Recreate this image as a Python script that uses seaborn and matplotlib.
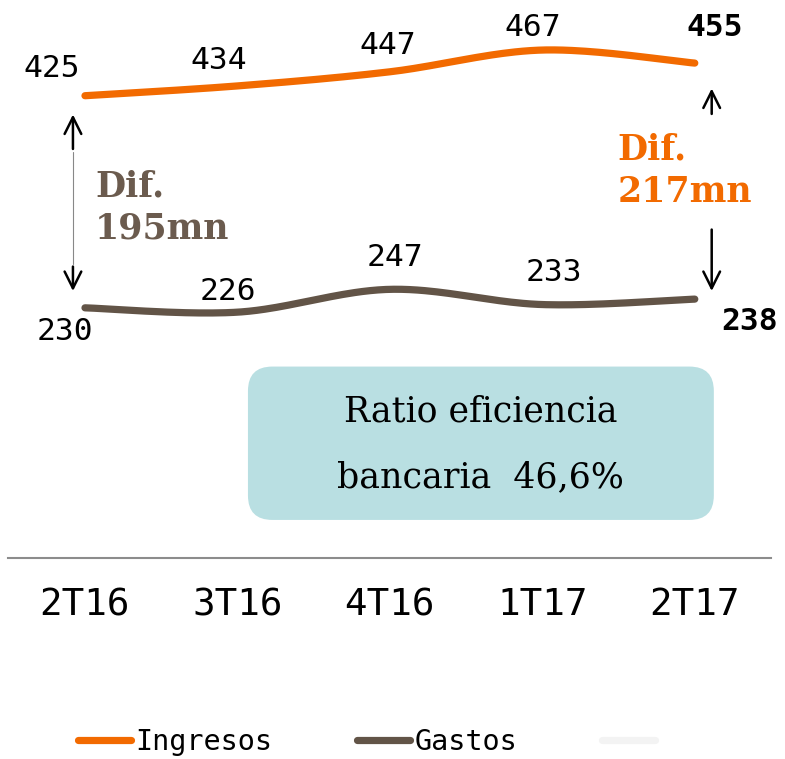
import numpy as np
import pandas as pd
import seaborn as sns
import matplotlib
matplotlib.use("Agg")
import matplotlib.pyplot as plt
from matplotlib.patches import FancyBboxPatch
from matplotlib.lines import Line2D

# ---- data ----
quarters = ["2T16", "3T16", "4T16", "1T17", "2T17"]
ingresos = [425, 434, 447, 467, 455]
gastos = [230, 226, 247, 233, 238]
dif_start = "Dif.\n195mn"
dif_end = "Dif.\n217mn"
ratio_line1 = "Ratio eficiencia"
ratio_line2 = "bancaria  46,6%"
legend_labels = ["Ingresos", "Gastos", ""]

ORANGE = "#F26A00"
BROWN = "#625447"
DIF_BROWN = "#6B5B4E"
BOX = "#B9DFE2"

sns.set_theme(style="white")
plt.rcParams["font.family"] = ["DejaVu Sans Mono", "DejaVu Sans"]
plt.rcParams["text.color"] = "black"


def smooth(y, n=40):
    """Catmull-Rom style cubic Bezier through the points (render smoothing)."""
    y = np.asarray(y, float)
    x = np.arange(len(y), dtype=float)
    P = np.column_stack([x, y])
    xs, ys = [], []
    for i in range(len(P) - 1):
        p0 = P[i - 1] if i > 0 else P[i]
        p1, p2 = P[i], P[i + 1]
        p3 = P[i + 2] if i + 2 < len(P) else P[i + 1]
        c1 = p1 + (p2 - p0) / 6
        c2 = p2 - (p3 - p1) / 6
        t = np.linspace(0, 1, n)[:, None]
        b = (1 - t) ** 3 * p1 + 3 * (1 - t) ** 2 * t * c1 + 3 * (1 - t) * t ** 2 * c2 + t ** 3 * p2
        if i > 0:
            b = b[1:]
        xs.append(b[:, 0]); ys.append(b[:, 1])
    return np.concatenate(xs), np.concatenate(ys)


fig = plt.figure(figsize=(7.85, 7.59), dpi=100)
ax = fig.add_axes([8 / 785, 1 - 558 / 759, 763 / 785, 558 / 759])

xo, yo = smooth(ingresos)
xg, yg = smooth(gastos)
df = pd.concat([
    pd.DataFrame({"x": xo, "y": yo, "serie": "Ingresos"}),
    pd.DataFrame({"x": xg, "y": yg, "serie": "Gastos"}),
])
sns.lineplot(data=df, x="x", y="y", hue="serie", sort=False,
             palette={"Ingresos": ORANGE, "Gastos": BROWN},
             linewidth=5.2, ax=ax, legend=False,
             solid_capstyle="round")

ax.set_xlim(-0.505, 4.5)
ax.set_ylim(0, 513)
ax.set_xticks(range(len(quarters)))
ax.set_xticklabels(quarters, fontsize=27, color="black")
ax.set_yticks([])
ax.set_xlabel(""); ax.set_ylabel("")
ax.tick_params(axis="x", length=0, pad=21)
for s in ["top", "left", "right"]:
    ax.spines[s].set_visible(False)
ax.spines["bottom"].set_color("#8C8C8C")
ax.spines["bottom"].set_linewidth(1.5)

# value labels
off_i = [(-33, 27), (-19, 25), (-2, 26), (-10, 23), (20, 36)]
off_g = [(-20, -24), (-9, 21), (5, 32), (12, 32), (55, -22)]
for i, (v, o) in enumerate(zip(ingresos, off_i)):
    ax.annotate(str(v), xy=(i, v), xytext=o, textcoords="offset pixels",
                ha="center", va="center", fontsize=22.5, color="black",
                fontweight="bold" if i == len(ingresos) - 1 else "normal")
for i, (v, o) in enumerate(zip(gastos, off_g)):
    ax.annotate(str(v), xy=(i, v), xytext=o, textcoords="offset pixels",
                ha="center", va="center", fontsize=22.5, color="black",
                fontweight="bold" if i == len(gastos) - 1 else "normal")

# difference labels
ax.text(0.066, 322, dif_start, ha="left", va="center", fontsize=25,
        fontweight="bold", family="DejaVu Serif", color=DIF_BROWN, linespacing=1.3)
ax.text(3.495, 356, dif_end, ha="left", va="center", fontsize=25,
        fontweight="bold", family="DejaVu Serif", color=ORANGE, linespacing=1.3)

# arrows
ap = dict(arrowstyle="->", color="black", lw=1.8, mutation_scale=30)
xl = -0.079
ax.plot([xl, xl], [373.5, 270.5], color="#888888", lw=0.8)
ax.annotate("", xy=(xl, 410.3), xytext=(xl, 373.5), arrowprops=ap)
ax.annotate("", xy=(xl, 242.9), xytext=(xl, 270.5), arrowprops=ap)
xr = 4.111
ax.annotate("", xy=(xr, 434.2), xytext=(xr, 405.7), arrowprops=ap)
ax.annotate("", xy=(xr, 242.9), xytext=(xr, 304.5), arrowprops=ap)

# ratio box
bx0, bx1, by0, by1 = 1.069, 4.125, 35, 176
asp = 152.5 / 1.087
box = FancyBboxPatch((bx0, by0), bx1 - bx0, by1 - by0,
                     boxstyle="round,pad=0,rounding_size=0.16",
                     mutation_aspect=asp, facecolor=BOX, edgecolor="none", zorder=1)
ax.add_patch(box)
ax.text((bx0 + bx1) / 2, 135, ratio_line1, ha="center", va="center",
        fontsize=25, family="DejaVu Serif", color="black", zorder=2)
ax.text((bx0 + bx1) / 2, 74, ratio_line2, ha="center", va="center",
        fontsize=25, family="DejaVu Serif", color="black", zorder=2)

# legend
handles = [Line2D([], [], color=ORANGE, lw=5.2, solid_capstyle="round"),
           Line2D([], [], color=BROWN, lw=5.2, solid_capstyle="round"),
           Line2D([], [], color="#F3F3F3", lw=5.2, solid_capstyle="round")]
leg = fig.legend(handles, legend_labels, loc="center left",
                 bbox_to_anchor=(78 / 785, 1 - 742 / 759), ncol=3, frameon=False,
                 fontsize=20.5, handlelength=1.85, handletextpad=0.15, columnspacing=3.0,
                 borderpad=0, borderaxespad=0)
for t in leg.get_texts():
    t.set_color("black")

fig.savefig("out.png", dpi=100)
